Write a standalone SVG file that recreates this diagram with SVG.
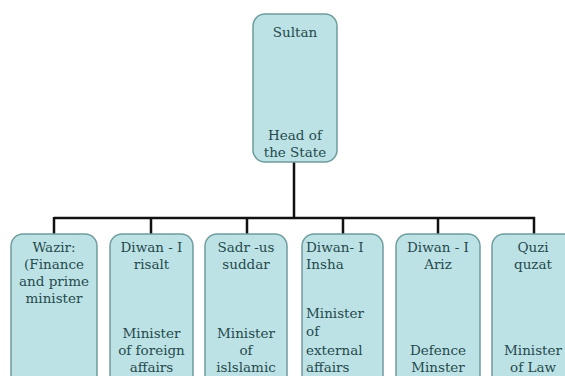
<svg xmlns="http://www.w3.org/2000/svg" width="565" height="376" viewBox="0 0 565 376">
<style>
.box{fill:#bce2e6;stroke:#6f9c9e;stroke-width:1.5}
.t{font-family:"DejaVu Serif","Liberation Serif",serif;font-size:13.5px;fill:#264a4c;text-anchor:middle}
.l{text-anchor:start}
.c{stroke:#111;stroke-width:2.5;fill:none}
</style>
<rect width="565" height="376" fill="#ffffff"/>
<g id="connectors">
<path class="c" d="M294 162V218M54 218H535M54 217V234M151 217V234M247 217V234M343 217V234M438 217V234M534 217V234"/>
</g>
<g id="sultan">
<rect class="box" x="253" y="14" width="84" height="148" rx="12"/>
<text class="t" x="295" y="37">Sultan</text>
<text class="t" x="295" y="140">Head of</text>
<text class="t" x="295" y="157">the State</text>
</g>
<g id="wazir">
<rect class="box" x="11" y="234" width="86" height="160" rx="12"/>
<text class="t" x="54" y="252">Wazir:</text>
<text class="t" x="54" y="269">(Finance</text>
<text class="t" x="54" y="286">and prime</text>
<text class="t" x="54" y="303">minister</text>
</g>
<g id="risalt">
<rect class="box" x="110" y="234" width="83" height="160" rx="12"/>
<text class="t" x="151.5" y="252">Diwan - I</text>
<text class="t" x="151.5" y="269">risalt</text>
<text class="t" x="151.5" y="338">Minister</text>
<text class="t" x="151.5" y="355">of foreign</text>
<text class="t" x="151.5" y="372">affairs</text>
</g>
<g id="sadr">
<rect class="box" x="205" y="234" width="82" height="160" rx="12"/>
<text class="t" x="246" y="252">Sadr -us</text>
<text class="t" x="246" y="269">suddar</text>
<text class="t" x="246" y="338">Minister</text>
<text class="t" x="246" y="355">of</text>
<text class="t" x="246" y="372">islslamic</text>
</g>
<g id="insha">
<rect class="box" x="302" y="234" width="81" height="160" rx="12"/>
<text class="t l" x="306" y="252">Diwan- I</text>
<text class="t l" x="306" y="269">Insha</text>
<text class="t l" x="306" y="318">Minister</text>
<text class="t l" x="306" y="336">of</text>
<text class="t l" x="306" y="355">external</text>
<text class="t l" x="306" y="372">affairs</text>
</g>
<g id="ariz">
<rect class="box" x="396" y="234" width="84" height="160" rx="12"/>
<text class="t" x="438" y="252">Diwan - I</text>
<text class="t" x="438" y="269">Ariz</text>
<text class="t" x="438" y="355">Defence</text>
<text class="t" x="438" y="372">Minster</text>
</g>
<g id="quzi">
<rect class="box" x="492" y="234" width="86" height="160" rx="12"/>
<text class="t" x="533" y="252">Quzi</text>
<text class="t" x="533" y="269">quzat</text>
<text class="t" x="533" y="355">Minister</text>
<text class="t" x="533" y="372">of Law</text>
</g>
</svg>
